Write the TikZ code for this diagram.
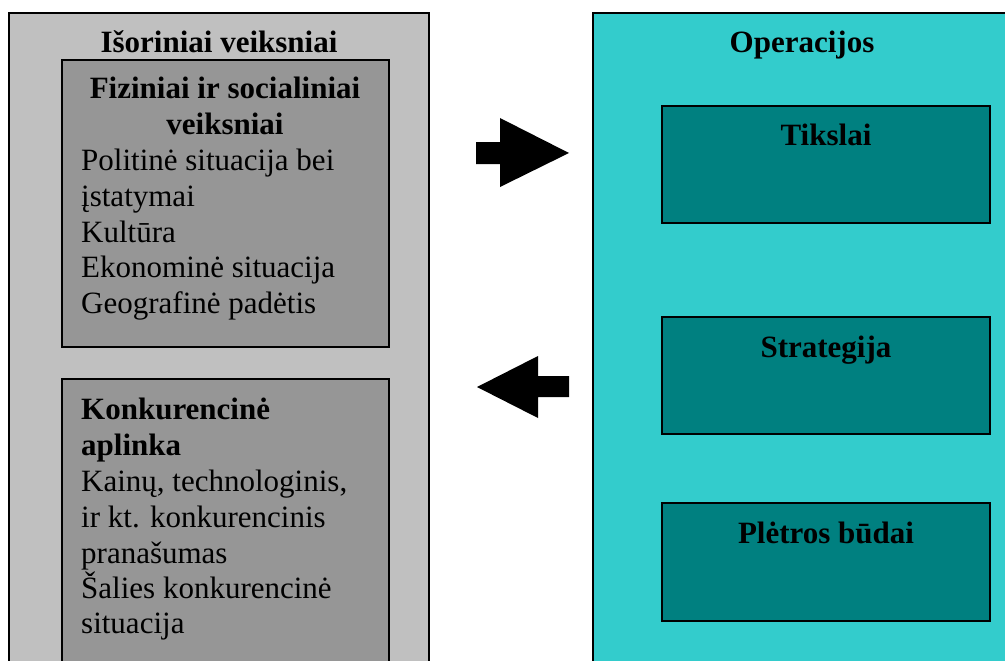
\documentclass[tikz,border=0pt]{standalone}
\usepackage{fontspec}
\setmainfont{Liberation Serif}
\tikzset{
  outergray/.style={fill=grayA, draw=black, line width=1.6pt},
  innergray/.style={fill=grayB, draw=black, line width=1.4pt},
  outerteal/.style={fill=tealA, draw=black, line width=1.6pt},
  innerteal/.style={fill=tealB, draw=black, line width=1.4pt},
  hdr/.style={font=\fontsize{31}{36}\selectfont\bfseries, inner sep=0pt, anchor=base, align=center},
  body/.style={font=\fontsize{31}{36}\selectfont, inner sep=0pt, anchor=base west, align=left},
  bodybold/.style={body, font=\fontsize{31}{36}\selectfont\bfseries},
  blockarrow/.style={fill=black, draw=none}
}
\definecolor{grayA}{HTML}{C0C0C0}
\definecolor{grayB}{HTML}{969696}
\definecolor{tealA}{HTML}{33CCCC}
\definecolor{tealB}{HTML}{008080}
\begin{document}
\begin{tikzpicture}[x=1pt,y=-1pt]
\useasboundingbox (0,0) rectangle (1005,661);
\begin{scope}
\clip (0,0) rectangle (1005,661);
% left outer
\draw[outergray] (9,13) rectangle (429,700);
% left inner boxes
\draw[innergray] (62,60) rectangle (389,347);
\draw[innergray] (62,379) rectangle (389,700);
% right outer
\draw[outerteal] (593,13) rectangle (1040,700);
% right inner boxes
\draw[innerteal] (662,106) rectangle (990,223);
\draw[innerteal] (662,317) rectangle (990,434);
\draw[innerteal] (662,503) rectangle (990,621);
\end{scope}
% texts left
\node[hdr] (t1) at (219,53) {Išoriniai veiksniai};
\node[hdr] (t2) at (225,99) {Fiziniai ir socialiniai};
\node[hdr] (t3) at (225,135) {veiksniai};
\node[body] (t4) at (81,170) {Politinė situacija bei};
\node[body] (t5) at (81,206) {įstatymai};
\node[body] (t6) at (81,242) {Kultūra};
\node[body] (t7) at (81,277) {Ekonominė situacija};
\node[body] (t8) at (81,313) {Geografinė padėtis};
\node[bodybold] (k1) at (81,419) {Konkurencinė};
\node[bodybold] (k2) at (81,455) {aplinka};
\node[body] (k3) at (81,491) {Kainų, technologinis,};
\node[body] (k4) at (81,527) {ir kt. konkurencinis};
\node[body] (k5) at (81,563) {pranašumas};
\node[body] (k6) at (81,598) {Šalies konkurencinė};
\node[body] (k7) at (81,633) {situacija};
% texts right
\node[hdr] (r0) at (802,53) {Operacijos};
\node[hdr] (r1) at (826,145) {Tikslai};
\node[hdr] (r2) at (826,357) {Strategija};
\node[hdr] (r3) at (826,543) {Plėtros būdai};
% block arrows
\fill[blockarrow] (476,142) -- (500,142) -- (500,118) -- (569,153) -- (500,187) -- (500,164) -- (476,164) -- cycle;
\fill[blockarrow] (569,376) -- (538,376) -- (538,356) -- (477,387) -- (538,418) -- (538,397) -- (569,397) -- cycle;
\end{tikzpicture}
\end{document}
